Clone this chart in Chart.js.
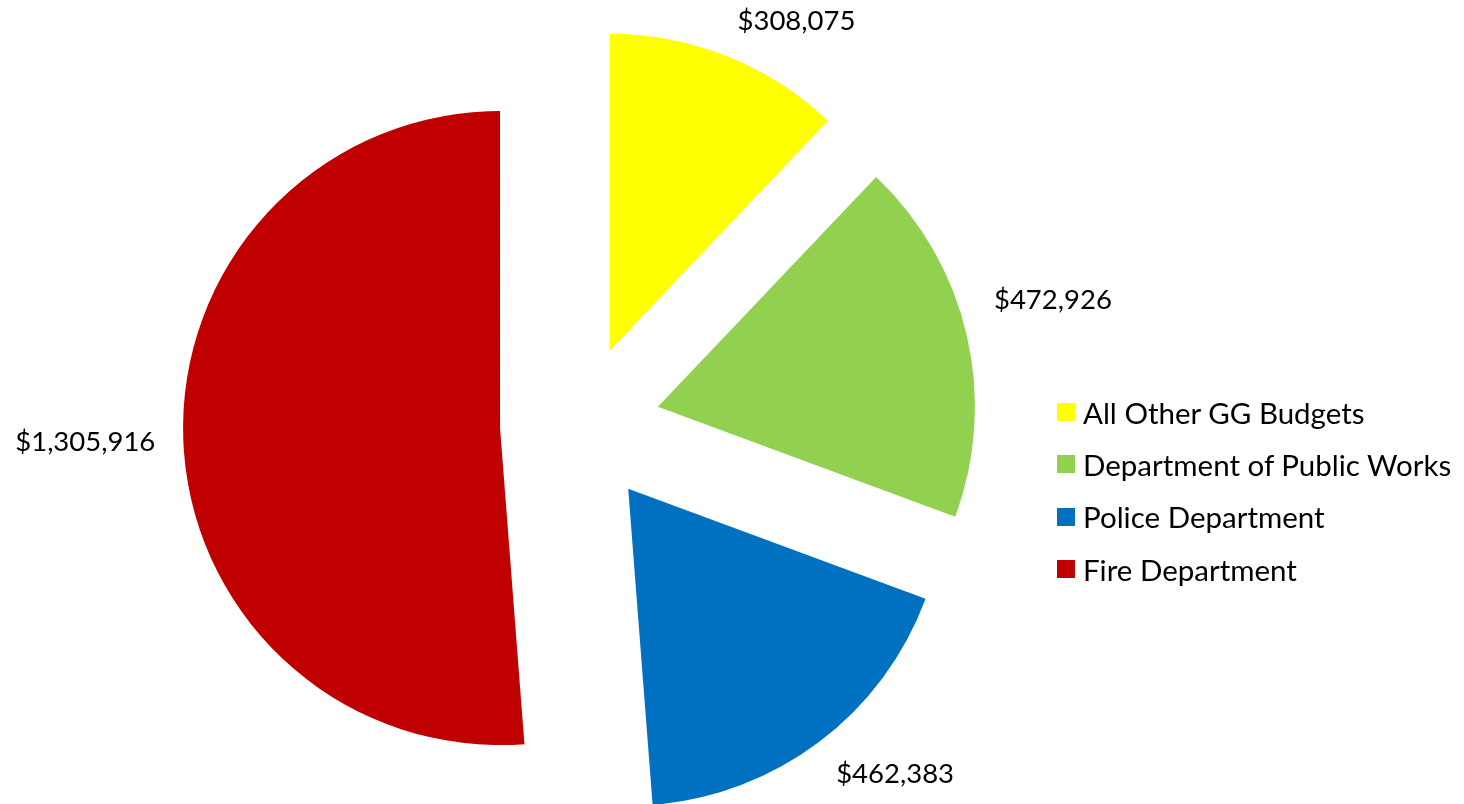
<!DOCTYPE html>
<html>
<head>
<meta charset="utf-8">
<title>General Government Budgets</title>
<script src="https://cdn.jsdelivr.net/npm/chart.js@4.4.1/dist/chart.umd.min.js"></script>
<style>
  html, body { margin: 0; padding: 0; background: #fff; }
  #wrap { position: relative; width: 1464px; height: 804px; overflow: hidden; }
  #budget-chart { position: absolute; left: 0; top: 0; }
  #legend { position: absolute; left: 1057px; top: 386px; font-family: Lato, 'Open Sans', sans-serif; font-size: 29.5px; color: #000; }
  .legend-row { display: flex; align-items: center; height: 52.3px; white-space: nowrap; }
  .legend-box { width: 18px; height: 18px; margin-right: 8px; flex: none; }
</style>
</head>
<body>
<div id="wrap">
  <canvas id="budget-chart" width="1464" height="804"></canvas>
  <div id="legend"></div>
</div>
<script>
// budget share by department
const labels = ['All Other GG Budgets', 'Department of Public Works', 'Police Department', 'Fire Department'];
const budgets = [308075, 472926, 462383, 1305916];
const colors = ['#FFFF00', '#92D050', '#0070C0', '#C00000'];

const PIE_RADIUS = 317;
const EXPLODE = 80;      // how far each slice is pulled out from the centre
const LABEL_GAP = 28;    // distance between slice edge and its value label
const LABEL_FONT = '27.5px Lato';
const labelNudgeY = [0, -20, 0, 0];  // small manual lift so labels clear each other

// draw every slice shifted out along its middle angle
const explodePlugin = {
  id: 'explode',
  beforeDatasetDraw(chart, args) {
    const ctx = chart.ctx;
    args.meta.data.forEach(arc => {
      const mid = (arc.startAngle + arc.endAngle) / 2;
      ctx.save();
      ctx.translate(Math.cos(mid) * EXPLODE, Math.sin(mid) * EXPLODE);
      arc.draw(ctx);
      ctx.restore();
    });
    return false;
  }
};

// "$1,234" labels just outside the end of each slice
const valueLabels = {
  id: 'valueLabels',
  afterDatasetsDraw(chart) {
    const ctx = chart.ctx;
    const meta = chart.getDatasetMeta(0);
    const values = chart.data.datasets[0].data;
    ctx.save();
    ctx.font = LABEL_FONT;
    ctx.fillStyle = '#000';
    ctx.textBaseline = 'alphabetic';
    meta.data.forEach((arc, i) => {
      const mid = (arc.startAngle + arc.endAngle) / 2;
      const dx = Math.cos(mid);
      const dy = Math.sin(mid);
      const dist = EXPLODE + arc.outerRadius + LABEL_GAP;
      const px = arc.x + dx * dist;
      const py = arc.y + dy * dist + (labelNudgeY[i] || 0);
      const text = '$' + values[i].toLocaleString('en-US');
      const capH = ctx.measureText('0').actualBoundingBoxAscent;

      ctx.textAlign = dx > 0.1 ? 'left' : (dx < -0.1 ? 'right' : 'center');
      let baseY;
      if (dy < -0.1) baseY = py;
      else if (dy > 0.1) baseY = py + capH;
      else baseY = py + capH / 2;
      ctx.fillText(text, px, baseY);
    });
    ctx.restore();
  }
};

const chart = new Chart(document.getElementById('budget-chart'), {
  type: 'pie',
  data: {
    labels: labels,
    datasets: [{
      data: budgets,
      backgroundColor: colors,
      borderWidth: 0,
      radius: PIE_RADIUS
    }]
  },
  options: {
    responsive: false,
    animation: false,
    events: [],
    layout: { padding: { left: 0, right: 304, top: 46, bottom: 0 } },
    plugins: {
      legend: { display: false },
      tooltip: { enabled: false }
    }
  },
  plugins: [explodePlugin, valueLabels]
});

// legend on the right, built from the same arrays
const legendEl = document.getElementById('legend');
labels.forEach((name, i) => {
  const row = document.createElement('div');
  row.className = 'legend-row';
  const box = document.createElement('span');
  box.className = 'legend-box';
  box.style.background = colors[i];
  const txt = document.createElement('span');
  txt.textContent = name;
  row.appendChild(box);
  row.appendChild(txt);
  legendEl.appendChild(row);
});
</script>
</body>
</html>
